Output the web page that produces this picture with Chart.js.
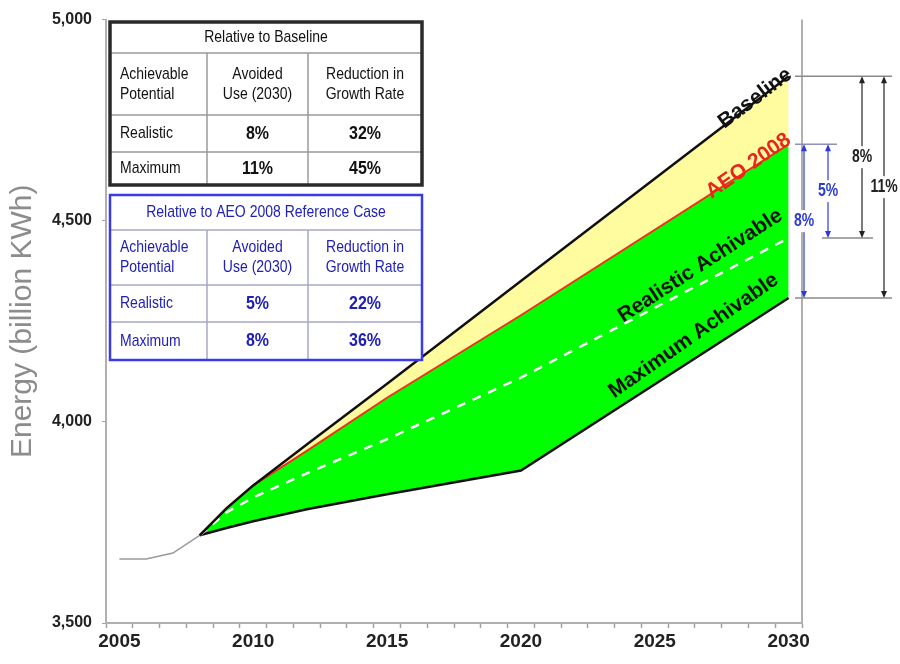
<!DOCTYPE html>
<html lang="en">
<head>
<meta charset="UTF-8" />
<title>Energy Use Projections</title>
<script src="https://cdn.jsdelivr.net/npm/chart.js@4"></script>
<style>
  body { margin: 0; background: #fff; }
  #wrap { width: 900px; height: 664px; }
</style>
</head>
<body>
<div id="wrap"><canvas id="energyChart" width="900" height="664"></canvas></div>
<script>
// years and projections (billion kWh)
const years      = [2005, 2006, 2007, 2008, 2009, 2010, 2012, 2015, 2020, 2030];
const history    = [3659, 3659, 3674, 3718, null, null, null, null, null, null];
const baseline   = [null, null, null, 3718, 3785, 3842, 3944, 4095, 4350, 4859];
const aeo2008    = [null, null, null, 3718, 3785, 3842, 3928, 4060, 4265, 4690];
const realistic  = [null, null, null, 3718, 3775, 3812, 3872, 3957, 4110, 4457];
const maximum    = [null, null, null, 3718, 3736, 3753, 3783, 3820, 3879, 4308];

const yTicks = [3500, 4000, 4500, 5000];
const xLabelYears = [2005, 2010, 2015, 2020, 2025, 2030];

// summary tables
const tableHead = ["Achievable\nPotential", "Avoided\nUse (2030)", "Reduction in\nGrowth Rate"];
const baselineTitle = "Relative to Baseline";
const baselineRows = [["Realistic", "8%", "32%"], ["Maximum", "11%", "45%"]];
const aeoTitle = "Relative to AEO 2008 Reference Case";
const aeoRows = [["Realistic", "5%", "22%"], ["Maximum", "8%", "36%"]];

// series captions: [text, year, value, angle, colour]
const captions = [
  ["Baseline", 2028.75, 4804, -37, "#111"],
  ["AEO 2008", 2028.5, 4636, -35, "#e8261c"],
  ["Realistic Achivable", 2026.7, 4388, -33, "#111"],
  ["Maximum Achivable", 2026.45, 4214, -35, "#111"]
];

const pts = arr => years.map((y, i) => ({ x: y, y: arr[i] }));
const SANS = '"Liberation Sans", Arial, sans-serif';

// text a little taller than wide, like the table lettering
function tallText(ctx, txt, x, y, sy) {
  ctx.save();
  ctx.translate(x, y);
  ctx.scale(1, sy);
  ctx.fillText(txt, 0, 0);
  ctx.restore();
}

function drawTable(ctx, t) {
  const { left, right, top, lines, cols, title, rows, color, text, inner, bw } = t;
  const bottom = lines[lines.length - 1];
  ctx.save();
  ctx.fillStyle = "#fff";
  ctx.fillRect(left, top, right - left, bottom - top);
  // inner rules
  ctx.strokeStyle = inner;
  ctx.lineWidth = 1.5;
  ctx.beginPath();
  for (let i = 0; i < lines.length - 1; i++) {
    ctx.moveTo(left, lines[i]); ctx.lineTo(right, lines[i]);
  }
  cols.forEach(c => { ctx.moveTo(c, lines[0]); ctx.lineTo(c, bottom); });
  ctx.stroke();
  ctx.strokeStyle = color;
  ctx.lineWidth = bw;
  ctx.strokeRect(left, top, right - left, bottom - top);

  ctx.fillStyle = text;
  ctx.textBaseline = "middle";
  ctx.font = "14px " + SANS;
  ctx.textAlign = "center";
  tallText(ctx, title, (left + right) / 2, (top + lines[0]) / 2, 1.2);

  const centres = [null, (cols[0] + cols[1]) / 2, (cols[1] + right) / 2];
  const cell = (txt, ci, y0, y1, bold) => {
    const parts = txt.split("\n");
    ctx.font = (bold ? "bold 16px " : "14px ") + SANS;
    const mid = (y0 + y1) / 2;
    parts.forEach((ln, k) => {
      const y = mid + (k - (parts.length - 1) / 2) * 20;
      if (ci === 0) { ctx.textAlign = "left"; tallText(ctx, ln, left + 10, y, 1.2); }
      else { ctx.textAlign = "center"; tallText(ctx, ln, centres[ci], y, 1.2); }
    });
  };
  tableHead.forEach((h, ci) => cell(h, ci, lines[0], lines[1], false));
  rows.forEach((r, ri) => r.forEach((v, ci) => cell(v, ci, lines[ri + 1], lines[ri + 2], ci > 0)));
  ctx.restore();
}

function arrow(ctx, x, y0, y1, col, label) {
  ctx.save();
  ctx.strokeStyle = col;
  ctx.fillStyle = col;
  ctx.lineWidth = 1.2;
  ctx.beginPath(); ctx.moveTo(x, y0 + 3); ctx.lineTo(x, y1 - 3); ctx.stroke();
  [[y0, 1], [y1, -1]].forEach(([y, d]) => {
    ctx.beginPath(); ctx.moveTo(x, y); ctx.lineTo(x - 3, y + 7 * d); ctx.lineTo(x + 3, y + 7 * d); ctx.closePath(); ctx.fill();
  });
  const mid = (y0 + y1) / 2;
  ctx.font = "bold 14px " + SANS;
  const w = ctx.measureText(label).width;
  ctx.fillStyle = "#fff";
  ctx.fillRect(x - w / 2 - 1, mid - 11, w + 2, 22);
  ctx.fillStyle = col;
  ctx.textAlign = "center";
  ctx.textBaseline = "middle";
  tallText(ctx, label, x, mid, 1.25);
  ctx.restore();
}

const decorations = {
  id: "decorations",
  afterDraw(chart) {
    const { ctx, chartArea: a, scales: { x, y } } = chart;

    // right frame edge
    ctx.save();
    ctx.strokeStyle = "#b0b0b0";
    ctx.lineWidth = 2;
    ctx.beginPath(); ctx.moveTo(a.right, a.top); ctx.lineTo(a.right, a.bottom); ctx.stroke();
    ctx.restore();

    // captions along the series
    captions.forEach(([txt, yr, val, ang, col]) => {
      ctx.save();
      ctx.translate(x.getPixelForValue(yr), y.getPixelForValue(val));
      ctx.rotate(ang * Math.PI / 180);
      ctx.font = "bold 21px " + SANS;
      ctx.fillStyle = col;
      ctx.textAlign = "center";
      ctx.textBaseline = "middle";
      ctx.fillText(txt, 0, 0);
      ctx.restore();
    });

    // 2030 gap markers
    const n = years.length - 1;
    const yB = y.getPixelForValue(baseline[n]);
    const yA = y.getPixelForValue(aeo2008[n]);
    const yR = y.getPixelForValue(realistic[n]);
    const yM = y.getPixelForValue(maximum[n]);
    ctx.save();
    ctx.lineWidth = 1.5;
    ctx.strokeStyle = "#8a8a8a";
    ctx.beginPath();
    ctx.moveTo(a.right - 7, yB); ctx.lineTo(a.right + 90, yB);
    ctx.moveTo(a.right - 7, yM); ctx.lineTo(a.right + 90, yM);
    ctx.moveTo(a.right + 20, yR); ctx.lineTo(a.right + 71, yR);
    ctx.stroke();
    ctx.strokeStyle = "#9090b8";
    ctx.beginPath(); ctx.moveTo(a.right - 7, yA); ctx.lineTo(a.right + 35, yA); ctx.stroke();
    ctx.restore();
    const blue = "#2b3bd6";
    arrow(ctx, a.right + 2, yA, yM, blue, "8%");
    arrow(ctx, a.right + 26, yA, yR, blue, "5%");
    arrow(ctx, a.right + 60, yB, yR, "#222", "8%");
    arrow(ctx, a.right + 82, yB, yM, "#222", "11%");

    // summary tables
    drawTable(ctx, {
      left: 110, right: 422, top: 22, lines: [53, 115, 152, 185], cols: [207, 308],
      title: baselineTitle, rows: baselineRows, color: "#2a2a2a", text: "#111", inner: "#9a9a9a", bw: 3.5
    });
    drawTable(ctx, {
      left: 110, right: 422, top: 195, lines: [230, 285, 322, 360], cols: [207, 308],
      title: aeoTitle, rows: aeoRows, color: "#3a3ae8", text: "#2020b8", inner: "#a8a8c8", bw: 2.5
    });
  }
};

new Chart(document.getElementById("energyChart"), {
  type: "line",
  data: {
    datasets: [
      { label: "Baseline", data: pts(baseline), borderColor: "#111", borderWidth: 2.5,
        fill: { target: 1 }, backgroundColor: "#fffca0" },
      { label: "AEO 2008", data: pts(aeo2008), borderColor: "#f03020", borderWidth: 2,
        fill: { target: 3 }, backgroundColor: "#00ff00" },
      { label: "Realistic Achivable", data: pts(realistic), borderColor: "#ffffff", borderWidth: 2.5,
        borderDash: [9, 8], fill: false },
      { label: "Maximum Achivable", data: pts(maximum), borderColor: "#111", borderWidth: 2.5, fill: false },
      { label: "History", data: pts(history), borderColor: "#9a9a9a", borderWidth: 1.5, fill: false }
    ]
  },
  options: {
    responsive: false,
    animation: false,
    events: [],
    elements: { point: { radius: 0 }, line: { tension: 0 } },
    layout: { padding: { top: 18, right: 98, left: 0, bottom: 0 } },
    plugins: {
      legend: { display: false },
      tooltip: { enabled: false },
      filler: { drawTime: "beforeDatasetsDraw" }
    },
    scales: {
      x: {
        type: "linear",
        min: 2004.5,
        max: 2030.5,
        afterBuildTicks(scale) {
          const t = [];
          for (let v = 2004.5; v <= 2030.5; v += 0.5) t.push({ value: v });
          scale.ticks = t;
        },
        afterFit(scale) { scale.height = 41; },
        grid: {
          drawOnChartArea: false,
          tickLength: 5,
          tickColor: c => (c.tick && c.tick.value % 1 !== 0) ? "#a0a0a0" : "rgba(0,0,0,0)",
          tickWidth: 1.5
        },
        border: { color: "#b0b0b0", width: 2 },
        ticks: {
          autoSkip: false,
          maxRotation: 0,
          padding: 2,
          color: "#222",
          font: { family: SANS, size: 19, weight: "bold" },
          callback: v => xLabelYears.includes(v) ? String(v) : ""
        }
      },
      y: {
        min: 3500,
        max: 5000,
        afterBuildTicks(scale) { scale.ticks = yTicks.map(v => ({ value: v })); },
        afterFit(scale) { scale.width = 106; },
        grid: { drawOnChartArea: false, tickLength: 4, tickColor: "#a0a0a0" },
        border: { color: "#b0b0b0", width: 2 },
        ticks: {
          padding: 10,
          color: "#222",
          font: { family: SANS, size: 16, weight: "bold" },
          callback: v => v.toLocaleString("en-US")
        },
        title: {
          display: true,
          text: "Energy (billion KWh)",
          color: "#8c8c8c",
          font: { family: SANS, size: 30 },
          padding: { top: 5, bottom: 0 }
        }
      }
    }
  },
  plugins: [decorations]
});
</script>
</body>
</html>
